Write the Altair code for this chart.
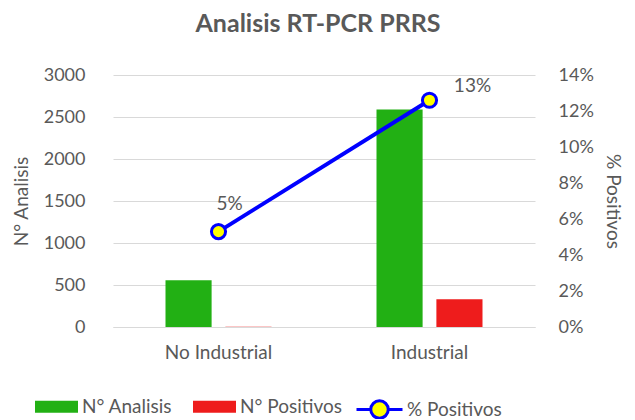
import altair as alt
import pandas as pd

categories = ["No Industrial", "Industrial"]
series = ["N° Analisis", "N° Positivos"]
n_analisis = [556, 2590]
n_positivos = [3, 330]
pct_positivos = [0.053, 0.126]
pct_labels = ["5%", "13%"]
left_ticks = [0, 500, 1000, 1500, 2000, 2500, 3000]
right_ticks = [0, 0.02, 0.04, 0.06, 0.08, 0.10, 0.12, 0.14]

bars_df = pd.DataFrame({
    "cat": categories * 2,
    "serie": [series[0]] * 2 + [series[1]] * 2,
    "valor": n_analisis + n_positivos,
})
line_df = pd.DataFrame({
    "cat": categories,
    "pct": pct_positivos,
    "label": pct_labels,
    "serie": ["% Positivos"] * 2,
})

FONT = "Lato"
GRAY = "#595959"
GRID = "#d9d9d9"
FS = 18

x_enc = alt.X(
    "cat:N", sort=categories,
    scale=alt.Scale(paddingInner=0.4976, paddingOuter=0.2488),
    axis=alt.Axis(title=None, labelAngle=0, labelFontSize=FS + 1, labelColor=GRAY,
                  labelFont=FONT, labelPadding=16, domainColor=GRID, ticks=False),
)

bars = alt.Chart(bars_df).mark_bar().encode(
    x=x_enc,
    xOffset=alt.XOffset("serie:N", sort=series, scale=alt.Scale(paddingInner=0.23)),
    y=alt.Y("valor:Q", scale=alt.Scale(domain=[0, 3000]),
            axis=alt.Axis(values=left_ticks, format="d", title="N° Analisis", grid=True,
                          gridColor=GRID, domain=False, ticks=False, labelFont=FONT,
                          labelFontSize=FS, labelColor=GRAY, labelPadding=28, titleFont=FONT,
                          titleFontSize=FS + 1, titleColor=GRAY, titleFontWeight="normal",
                          titlePadding=12)),
    color=alt.Color("serie:N", sort=series,
                    scale=alt.Scale(domain=series, range=["#22b014", "#ee1c1c"]),
                    legend=alt.Legend(title=None, orient="none", legendX=-78, legendY=310,
                                      direction="horizontal", symbolType="M-1,-0.28H1V0.28H-1Z",
                                      symbolSize=1849, symbolStrokeWidth=0, labelFont=FONT,
                                      labelFontSize=FS + 1, labelColor=GRAY, columnPadding=20,
                                      labelOffset=4)),
)

y_right = alt.Y("pct:Q", scale=alt.Scale(domain=[0, 0.14]),
                axis=alt.Axis(orient="right", format=".0%", values=right_ticks, title="% Positivos",
                              grid=False, domain=False, ticks=False, labelFont=FONT,
                              labelFontSize=FS, labelColor=GRAY, labelPadding=23,
                              titleFont=FONT, titleFontSize=FS + 1, titleColor=GRAY,
                              titleFontWeight="normal", titlePadding=9))

line = alt.Chart(line_df).mark_line(color="#0000ff", strokeWidth=4).encode(
    x=alt.X("cat:N", sort=categories), y=y_right)

points = alt.Chart(line_df).mark_point(shape="circle", fill="#ffff00", fillOpacity=1, opacity=1,
                                       strokeWidth=3, size=200).encode(
    x=alt.X("cat:N", sort=categories), y=y_right,
    stroke=alt.Stroke("serie:N", scale=alt.Scale(domain=["% Positivos"], range=["#0000ff"]),
                      legend=alt.Legend(title=None, orient="none", legendX=242, legendY=310,
                                        symbolType="M-1,0L-0.38,0M0.38,0L1,0M-0.38,0A0.38,0.38,0,1,1,0.38,0A0.38,0.38,0,1,1,-0.38,0Z",
                                        symbolSize=2116, symbolFillColor="#ffff00",
                                        symbolStrokeWidth=3, labelFont=FONT, labelFontSize=FS + 1,
                                        labelColor=GRAY, labelOffset=3)),
)

text1 = alt.Chart(line_df).transform_filter(alt.datum.cat == categories[0]).mark_text(
    font=FONT, fontSize=FS + 1, color=GRAY, dx=11, dy=-28).encode(
    x=alt.X("cat:N", sort=categories), y=y_right, text="label:N")
text2 = alt.Chart(line_df).transform_filter(alt.datum.cat == categories[1]).mark_text(
    font=FONT, fontSize=FS + 1, color=GRAY, dx=43, dy=-14).encode(
    x=alt.X("cat:N", sort=categories), y=y_right, text="label:N")

right = alt.layer(line, points, text1, text2)

chart = alt.layer(bars, right).resolve_scale(y="independent").properties(
    width=422, height=252,
    title=alt.TitleParams("Analisis RT-PCR PRRS", font=FONT, fontSize=25, fontWeight="bold",
                          color=GRAY, frame="group", offset=29, dx=-6),
    autosize=alt.AutoSizeParams(type="none"),
    padding={"left": 105, "top": 67, "right": 92, "bottom": 92},
).configure_view(stroke=None)

chart.save("out.html", embed_options={"renderer": "svg", "actions": False})
